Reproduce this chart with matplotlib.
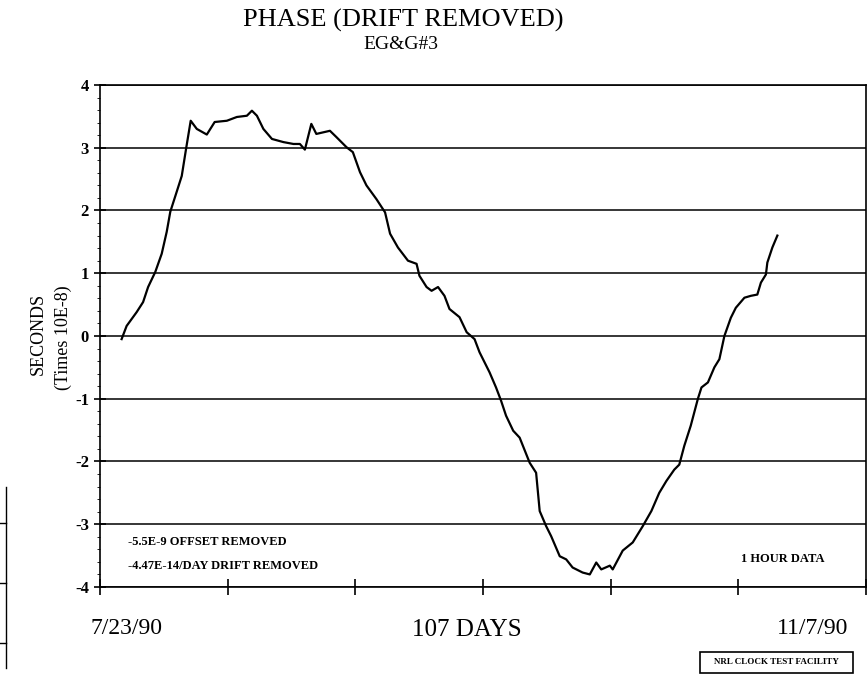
import matplotlib
matplotlib.use("Agg")
import matplotlib.pyplot as plt
from matplotlib.lines import Line2D
from matplotlib.patches import Rectangle
import numpy as np

plt.rcParams['font.family'] = ['Liberation Serif', 'DejaVu Serif']

# phase residual (units of 1E-8 s), x in days from 7/23/90
days = [3.0, 3.7, 5.1, 6.0, 6.7, 7.7, 8.6, 9.3, 9.8, 10.7, 11.4, 12.0, 12.65,
        13.5, 14.9, 16.0, 17.7, 19.1, 20.5, 21.2, 21.9, 22.8, 24.0, 25.6,
        27.0, 27.9, 28.6, 29.5, 30.2, 32.1, 33.0, 34.4, 35.3, 36.3, 37.2,
        38.6, 39.8, 40.5, 41.6, 43.0, 44.2, 44.6, 45.6, 46.3, 47.2, 48.1,
        48.8, 50.2, 51.2, 52.3, 53.0, 54.4, 55.3, 56.0, 56.7, 57.7, 58.6,
        60.0, 60.9, 61.4, 62.3, 63.0, 64.2, 65.1, 66.0, 67.4, 68.4, 69.3,
        70.0, 71.2, 71.6, 73.0, 74.4, 75.8, 77.0, 78.1, 79.1, 80.2, 80.9,
        81.6, 82.5, 83.5, 84.0, 84.9, 85.8, 86.5, 87.2, 88.1, 88.8, 90.0,
        90.9, 91.8, 92.3, 93.0, 93.2, 93.9, 94.6]
phase = [-0.05, 0.16, 0.38, 0.54, 0.78, 1.02, 1.31, 1.66, 1.98, 2.30, 2.55,
         2.98, 3.43, 3.30, 3.21, 3.41, 3.43, 3.49, 3.51, 3.59, 3.51, 3.30,
         3.14, 3.09, 3.06, 3.06, 2.97, 3.38, 3.22, 3.27, 3.17, 3.01, 2.93,
         2.61, 2.40, 2.18, 1.97, 1.63, 1.41, 1.20, 1.15, 0.96, 0.78, 0.72,
         0.78, 0.64, 0.43, 0.30, 0.06, -0.05, -0.26, -0.58, -0.82, -1.03,
         -1.27, -1.51, -1.62, -2.02, -2.18, -2.79, -3.03, -3.19, -3.51,
         -3.56, -3.69, -3.77, -3.80, -3.61, -3.72, -3.66, -3.72, -3.42,
         -3.29, -3.03, -2.79, -2.50, -2.31, -2.13, -2.05, -1.75, -1.43,
         -1.00, -0.82, -0.74, -0.50, -0.37, 0.00, 0.29, 0.45, 0.61, 0.64,
         0.66, 0.85, 0.98, 1.17, 1.41, 1.60]

total_days = 107
y_ticks = [-4, -3, -2, -1, 0, 1, 2, 3, 4]
notes = ["-5.5E-9 OFFSET REMOVED", "-4.47E-14/DAY DRIFT REMOVED"]


def main():
    fig = plt.figure(figsize=(8.67, 6.75), dpi=100)
    ax = fig.add_axes([0.1155, 0.1304, 0.8835, 0.7437])

    ax.plot(days, phase, color='black', lw=1.6)

    ax.set_xlim(0, total_days)
    ax.set_ylim(-4, 4)
    ax.set_yticks(y_ticks)
    ax.set_yticklabels([str(v) for v in y_ticks], fontweight='bold', fontsize=12)
    ax.set_yticks(np.arange(-4, 4.01, 0.2), minor=True)
    ax.set_xticks(np.linspace(0, total_days, 7))
    ax.set_xticklabels([])
    ax.tick_params(axis='x', direction='inout', length=12, width=1.2)
    ax.tick_params(axis='y', which='major', direction='inout', length=8, width=1.2, pad=4)
    ax.tick_params(axis='y', which='minor', direction='out', length=2, width=0.6)
    ax.grid(axis='y', color='black', lw=1.1)
    for s in ax.spines.values():
        s.set_linewidth(1.2)

    fig.text(0.465, 0.969, "PHASE (DRIFT REMOVED)", ha='center', va='center', fontsize=19)
    fig.text(0.462, 0.934, "EG&G#3", ha='center', va='center', fontsize=14)

    fig.text(0.044, 0.505, "SECONDS", rotation=90, ha='center', va='center', fontsize=13)
    fig.text(0.073, 0.50, "(Times 10E-8)", rotation=90, ha='center', va='center', fontsize=13)

    fig.text(0.148, 1 - 542 / 675, notes[0], ha='left', va='center', fontsize=9, fontweight='bold')
    fig.text(0.148, 1 - 566 / 675, notes[1], ha='left', va='center', fontsize=9, fontweight='bold')
    fig.text(0.903, 1 - 559 / 675, "1 HOUR DATA", ha='center', va='center', fontsize=9, fontweight='bold')

    fig.text(0.146, 1 - 628 / 675, "7/23/90", ha='center', va='center', fontsize=17)
    fig.text(0.538, 1 - 630 / 675, "107 DAYS", ha='center', va='center', fontsize=18)
    fig.text(0.937, 1 - 628 / 675, "11/7/90", ha='center', va='center', fontsize=17)

    fig.patches.append(Rectangle((700 / 867, 1 - 673 / 675), 153 / 867, 21 / 675,
                                 transform=fig.transFigure, fill=False, lw=1.2, ec='black'))
    fig.text(776 / 867, 1 - 662 / 675, "NRL CLOCK TEST FACILITY", ha='center', va='center',
             fontsize=6.5, fontweight='bold')

    # scan artifact: edge of neighbouring chart
    fig.lines.append(Line2D([6 / 867, 6 / 867], [1 - 487 / 675, 1 - 668 / 675],
                            transform=fig.transFigure, color='black', lw=1))
    for ty in [523, 583, 643]:
        fig.lines.append(Line2D([0, 6 / 867], [1 - ty / 675, 1 - ty / 675],
                                transform=fig.transFigure, color='black', lw=1))

    fig.savefig("out.png", dpi=100)


if __name__ == '__main__':
    main()
